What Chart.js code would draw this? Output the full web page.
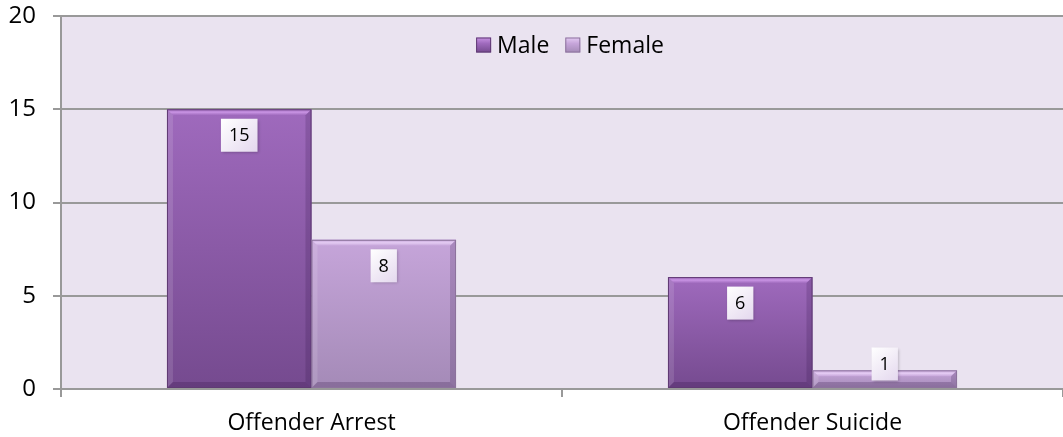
<!DOCTYPE html>
<html>
<head>
    <title>Offender Arrest / Suicide by Gender</title>
    <script src="https://cdn.jsdelivr.net/npm/chart.js"></script>
    <style>
        html, body { margin: 0; padding: 0; background: #ffffff; }
        .chart-container { width: 1063px; height: 437px; position: relative; }
    </style>
</head>
<body>
    <div class="chart-container">
        <canvas id="myChart"></canvas>
    </div>

    <script>
        // data
        const categories = ['Offender Arrest', 'Offender Suicide'];
        const seriesNames = ['Male', 'Female'];
        const maleValues = [15, 6];
        const femaleValues = [8, 1];

        const FONT = '"Open Sans", "Noto Sans", sans-serif';

        // colours: top, bottom, bevel highlight
        const maleColors = { top: '#9f6abd', bottom: '#754a8f', bevel: '#c893e3', dark: '#5f3a73' };
        const femaleColors = { top: '#c6a5da', bottom: '#a48ab7', bevel: '#e4cbf3', dark: '#8c739c' };

        // vertical gradient for each bar, from its own top down to the zero line
        function barFill(colors) {
            return function(c) {
                const chart = c.chart;
                if (!chart.chartArea || c.type !== 'data') return colors.bottom;
                const y = chart.scales.y;
                const top = y.getPixelForValue(c.raw);
                const base = y.getPixelForValue(0);
                const g = chart.ctx.createLinearGradient(0, top, 0, base);
                g.addColorStop(0, colors.top);
                g.addColorStop(1, colors.bottom);
                return g;
            };
        }

        // lavender plot background
        const plotBg = {
            id: 'plotBg',
            beforeDraw(chart) {
                const { ctx, chartArea: a } = chart;
                ctx.save();
                ctx.fillStyle = '#eae3f0';
                ctx.fillRect(a.left, a.top, a.right - a.left, a.bottom - a.top);
                ctx.restore();
            }
        };

        // bevelled edges on bars
        const bevel = {
            id: 'bevel',
            afterDatasetsDraw(chart) {
                const ctx = chart.ctx;
                const palette = [maleColors, femaleColors];
                chart.data.datasets.forEach((ds, i) => {
                    const meta = chart.getDatasetMeta(i);
                    const col = palette[i];
                    meta.data.forEach(bar => {
                        const l = bar.x - bar.width / 2, r = bar.x + bar.width / 2;
                        const t = bar.y, b = bar.base;
                        const e = Math.min(6, (b - t) / 2);
                        ctx.save();
                        // top strip
                        const tg = ctx.createLinearGradient(0, t, 0, t + e);
                        tg.addColorStop(0, col.top);
                        tg.addColorStop(0.5, col.bevel);
                        tg.addColorStop(1, col.top);
                        ctx.fillStyle = tg;
                        ctx.beginPath();
                        ctx.moveTo(l, t); ctx.lineTo(r, t); ctx.lineTo(r - e, t + e); ctx.lineTo(l + e, t + e);
                        ctx.closePath(); ctx.fill();
                        // left strip lighter
                        ctx.fillStyle = 'rgba(255,255,255,0.12)';
                        ctx.beginPath();
                        ctx.moveTo(l, t); ctx.lineTo(l + e, t + e); ctx.lineTo(l + e, b - e); ctx.lineTo(l, b);
                        ctx.closePath(); ctx.fill();
                        // right strip darker
                        ctx.fillStyle = 'rgba(40,10,60,0.18)';
                        ctx.beginPath();
                        ctx.moveTo(r, t); ctx.lineTo(r - e, t + e); ctx.lineTo(r - e, b - e); ctx.lineTo(r, b);
                        ctx.closePath(); ctx.fill();
                        // bottom strip darker
                        ctx.fillStyle = 'rgba(40,10,60,0.22)';
                        ctx.beginPath();
                        ctx.moveTo(l, b); ctx.lineTo(l + e, b - e); ctx.lineTo(r - e, b - e); ctx.lineTo(r, b);
                        ctx.closePath(); ctx.fill();
                        // outline
                        ctx.strokeStyle = col.dark;
                        ctx.lineWidth = 1;
                        ctx.strokeRect(l + 0.5, t + 0.5, r - l - 1, b - t - 1);
                        ctx.restore();
                    });
                });
            }
        };

        // value labels in small light boxes
        const valueLabels = {
            id: 'valueLabels',
            afterDatasetsDraw(chart) {
                const ctx = chart.ctx;
                ctx.save();
                ctx.font = '18px ' + FONT;
                ctx.textAlign = 'center';
                ctx.textBaseline = 'middle';
                chart.data.datasets.forEach((ds, i) => {
                    chart.getDatasetMeta(i).data.forEach((bar, j) => {
                        const txt = String(ds.data[j]);
                        const w = ctx.measureText(txt).width + 16;
                        const h = 33;
                        const cy = Math.min(bar.y + 26, bar.base - 24);
                        const x0 = bar.x - w / 2, y0 = cy - h / 2;
                        ctx.save();
                        ctx.shadowColor = 'rgba(0,0,0,0.25)';
                        ctx.shadowBlur = 3;
                        ctx.shadowOffsetX = 1;
                        ctx.shadowOffsetY = 1;
                        const g = ctx.createLinearGradient(x0, y0, x0 + w, y0 + h);
                        g.addColorStop(0, '#ffffff');
                        g.addColorStop(1, '#e4d8ee');
                        ctx.fillStyle = g;
                        ctx.fillRect(x0, y0, w, h);
                        ctx.restore();
                        ctx.fillStyle = '#000000';
                        ctx.fillText(txt, bar.x, cy + 1);
                    });
                });
                ctx.restore();
            }
        };

        // legend drawn inside the plot area, top centre
        const innerLegend = {
            id: 'innerLegend',
            afterDraw(chart) {
                const ctx = chart.ctx;
                const a = chart.chartArea;
                const palette = [maleColors, femaleColors];
                ctx.save();
                ctx.font = '23px ' + FONT;
                ctx.textBaseline = 'middle';
                const box = 15, gap = 6, itemGap = 16;
                const widths = seriesNames.map(n => box + gap + ctx.measureText(n).width);
                const total = widths.reduce((s, w) => s + w, 0) + itemGap * (seriesNames.length - 1);
                let x = (a.left + a.right) / 2 + 8 - total / 2;
                const cy = a.top + 29;
                seriesNames.forEach((n, i) => {
                    const col = palette[i];
                    const g = ctx.createLinearGradient(x, cy - box / 2, x, cy + box / 2);
                    g.addColorStop(0, col.bevel);
                    g.addColorStop(0.4, col.top);
                    g.addColorStop(1, col.bottom);
                    ctx.fillStyle = g;
                    ctx.fillRect(x, cy - box / 2, box, box);
                    ctx.strokeStyle = col.dark;
                    ctx.lineWidth = 1;
                    ctx.strokeRect(x + 0.5, cy - box / 2 + 0.5, box - 1, box - 1);
                    ctx.fillStyle = '#000000';
                    ctx.fillText(n, x + box + gap, cy + 1);
                    x += widths[i] + itemGap;
                });
                ctx.restore();
            }
        };

        const ctx = document.getElementById('myChart').getContext('2d');
        const myChart = new Chart(ctx, {
            type: 'bar',
            data: {
                labels: categories,
                datasets: [
                    { label: seriesNames[0], data: maleValues, backgroundColor: barFill(maleColors) },
                    { label: seriesNames[1], data: femaleValues, backgroundColor: barFill(femaleColors) }
                ]
            },
            options: {
                responsive: true,
                maintainAspectRatio: false,
                animation: false,
                categoryPercentage: 0.577,
                barPercentage: 1.0,
                layout: { padding: { top: 16, right: 0, left: 0, bottom: 0 } },
                plugins: {
                    legend: { display: false },
                    tooltip: { enabled: false }
                },
                scales: {
                    x: {
                        grid: { offset: true, drawOnChartArea: false, drawTicks: true, tickLength: 8, color: '#999999', lineWidth: 2 },
                        border: { color: '#999999', width: 2 },
                        ticks: { color: '#000000', font: { family: FONT, size: 23 }, padding: 13 },
                        afterFit(scale) { scale.height = 48; scale.paddingLeft = 0; scale.paddingRight = 0; }
                    },
                    y: {
                        min: 0,
                        max: 20,
                        ticks: { stepSize: 5, color: '#000000', font: { family: FONT, size: 24 }, padding: 17 },
                        grid: { color: '#999999', lineWidth: 2, tickLength: 8 },
                        border: { color: '#999999', width: 2 },
                        afterFit(scale) { scale.width = 61; scale.paddingTop = 0; scale.paddingBottom = 0; }
                    }
                }
            },
            plugins: [plotBg, bevel, valueLabels, innerLegend]
        });
    </script>
</body>
</html>
